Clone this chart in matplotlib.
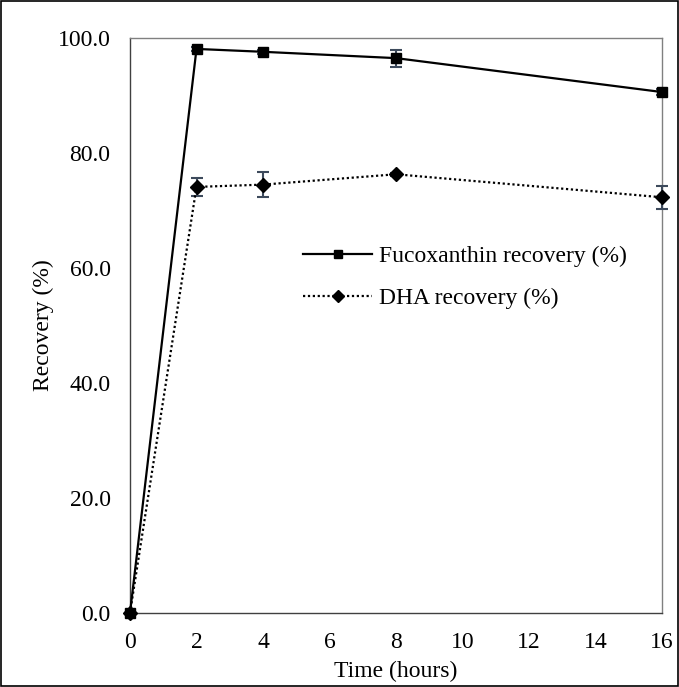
import matplotlib
matplotlib.use("Agg")
import matplotlib.pyplot as plt
from matplotlib.patches import Rectangle

time_h = [0, 2, 4, 8, 16]
fuco = [0.0, 98.1, 97.6, 96.5, 90.6]
fuco_err = [0.0, 0.4, 0.4, 1.5, 0.5]
dha = [0.0, 74.1, 74.5, 76.3, 72.3]
dha_err = [0.0, 1.6, 2.2, 0.3, 2.0]
xticks = [0, 2, 4, 6, 8, 10, 12, 14, 16]
yticks = [0, 20, 40, 60, 80, 100]

plt.rcParams['font.family'] = ['Liberation Serif', 'DejaVu Serif']
FS = 17

fig = plt.figure(figsize=(6.79, 6.87), dpi=100)
ax = fig.add_axes([130/679, 74/687, 532/679, 575/687])

ecol = '#3d4a5c'
l1 = ax.errorbar(time_h, fuco, yerr=fuco_err, color='black', lw=1.6, marker='s',
                 markersize=7, ecolor=ecol, elinewidth=1.5, capsize=4, capthick=1.5,
                 label='Fucoxanthin recovery (%)', zorder=3)
l2 = ax.errorbar(time_h, dha, yerr=dha_err, color='black', lw=1.6, ls=(0, (1, 1.2)),
                 marker='D', markersize=7, ecolor=ecol, elinewidth=1.5, capsize=4,
                 capthick=1.5, label='DHA recovery (%)', zorder=3)
for c in (l1, l2):
    c[0].set_clip_on(False)
    for a in c[1]:
        a.set_clip_on(False)
    for a in c[2]:
        a.set_clip_on(False)

ax.set_xlim(0, 16)
ax.set_ylim(0, 100)
ax.set_xticks(xticks)
ax.set_xticklabels([str(v) for v in xticks])
ax.set_yticks(yticks)
ax.set_yticklabels([f"{v:.1f}" for v in yticks])
ax.tick_params(length=0, labelsize=FS)
ax.tick_params(axis='x', pad=14)
ax.tick_params(axis='y', pad=14)
for s in ax.spines.values():
    s.set_color('#808080')
    s.set_linewidth(1)
ax.spines['bottom'].set_color('#404040')
ax.spines['left'].set_color('#404040')
ax.set_xlabel('Time (hours)', fontsize=FS, labelpad=5)
ax.set_ylabel('Recovery (%)', fontsize=FS, labelpad=3)

handles, labels = ax.get_legend_handles_labels()
handles = [h[0] for h in handles]
leg = ax.legend(handles, labels, loc='upper left', bbox_to_anchor=(0.308, 0.655),
                frameon=False, fontsize=FS, handlelength=2.9, labelspacing=0.85,
                handletextpad=0.3, borderaxespad=0, markerscale=0.85)

fig.patches.append(Rectangle((0.002, 0.002), 0.996, 0.996, transform=fig.transFigure,
                             fill=False, edgecolor='black', lw=1.2))
fig.savefig('out.png', dpi=100)
